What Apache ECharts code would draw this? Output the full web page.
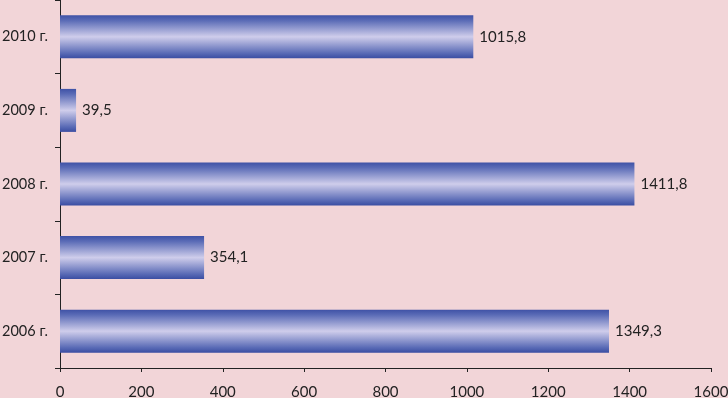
<!DOCTYPE html>
<html><head><meta charset="utf-8">
<script src="https://cdn.jsdelivr.net/npm/echarts@6/dist/echarts.min.js"></script>
<style>html,body{margin:0;padding:0;background:#f2d5d8;}#c{width:728px;height:398px;}</style>
</head><body><div id="c"></div>
<script>
const categories = ['2006 г.', '2007 г.', '2008 г.', '2009 г.', '2010 г.'];
const values = [1349.3, 354.1, 1411.8, 39.5, 1015.8];
const xTicks = [0, 200, 400, 600, 800, 1000, 1200, 1400, 1600];

const chart = echarts.init(document.getElementById('c'));
const font = 'Lato, "Open Sans", sans-serif';
chart.setOption({
  backgroundColor: '#f2d5d8',
  animation: false,
  grid: {left: 60, right: 17, top: 0, bottom: 30, containLabel: false, outerBoundsMode: 'none'},
  xAxis: {
    type: 'value', min: xTicks[0], max: xTicks[xTicks.length - 1], interval: 200,
    axisLine: {show: true, lineStyle: {color: '#222', width: 1}},
    axisTick: {show: true, length: 4, lineStyle: {color: '#222'}},
    splitLine: {show: false},
    axisLabel: {color: '#222', fontSize: 15, fontFamily: font, margin: 17, formatter: v => String(v)}
  },
  yAxis: {
    type: 'category', data: categories,
    axisLine: {show: true, lineStyle: {color: '#222', width: 1}},
    axisTick: {show: true, length: 5, lineStyle: {color: '#222'}},
    axisLabel: {color: '#222', fontSize: 14.5, fontFamily: font, margin: 12}
  },
  series: [{
    type: 'bar', data: values, barWidth: 43,
    itemStyle: {
      color: new echarts.graphic.LinearGradient(0, 0, 0, 1, [
        {offset: 0, color: '#3f52a6'},
        {offset: 0.12, color: '#5a6bb6'},
        {offset: 0.5, color: '#cfcdeb'},
        {offset: 0.88, color: '#5a6bb6'},
        {offset: 1, color: '#3a4da2'}
      ])
    },
    label: {
      show: true, position: 'right', distance: 6, color: '#222', fontSize: 15, fontFamily: font,
      formatter: p => String(p.value).replace('.', ',')
    }
  }]
});
</script></body></html>
